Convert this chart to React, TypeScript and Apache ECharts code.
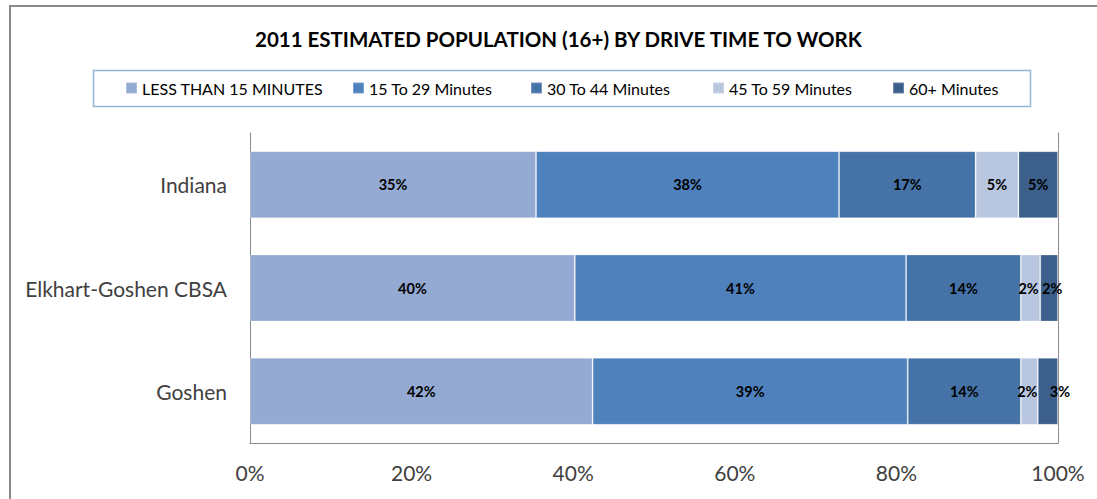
import React, { useEffect, useRef } from "react";
import * as echarts from "echarts";

const categories = ["Indiana", "Elkhart-Goshen CBSA", "Goshen"];
const seriesNames = [
  "LESS THAN 15 MINUTES",
  "15 To 29 Minutes",
  "30 To 44 Minutes",
  "45 To 59 Minutes",
  "60+ Minutes",
];
const lessThan15 = [35.4, 40.2, 42.4];
const min15to29 = [37.5, 41.0, 39.0];
const min30to44 = [16.9, 14.2, 14.0];
const min45to59 = [5.3, 2.4, 2.1];
const min60plus = [4.9, 2.2, 2.5];
const seriesValues = [lessThan15, min15to29, min30to44, min45to59, min60plus];
const seriesColors = ["#95AAD2", "#4F81BD", "#4572A7", "#B9C6E0", "#3C5F8C"];
const xTicks = [0, 20, 40, 60, 80, 100];
const legendLefts = [125, 352, 530, 712, 892];

const FONT = "Lato, 'Open Sans', sans-serif";

// label nudges for the narrow last segments (styling only)
const labelOffset = (si: number, ci: number): [number, number] => {
  if (si === 3 && ci === 1) return [-2, 0];
  if (si === 4 && ci === 1) return [3, 0];
  if (si === 3 && ci === 2) return [-2, 0];
  if (si === 4 && ci === 2) return [12, 0];
  return [0, 0];
};

export default function App() {
  const ref = useRef<HTMLDivElement>(null);
  useEffect(() => {
    document.body.style.margin = "0";
    const chart = echarts.init(ref.current!, undefined, { renderer: "svg" });
    const option: any = {
      animation: false,
      backgroundColor: "#ffffff",
      textStyle: { fontFamily: FONT },
      title: {
        text: "2011 ESTIMATED POPULATION (16+) BY DRIVE TIME TO WORK",
        left: 255,
        top: 28,
        padding: 0,
        textStyle: { fontFamily: FONT, fontSize: 20.5, fontWeight: "bold", color: "#000000" },
      },
      legend: seriesNames.map((n, i) => ({
        data: [n],
        left: legendLefts[i],
        top: 80,
        padding: 0,
        itemWidth: 11,
        itemHeight: 11,
        icon: "rect",
        selectedMode: false,
        textStyle: { fontFamily: FONT, fontSize: 16, color: "#000000" },
      })),
      graphic: [
        {
          type: "rect",
          shape: { x: 10, y: 6, width: 1300, height: 700 },
          style: { fill: "none", stroke: "#8a8a8a", lineWidth: 2 },
          silent: true,
        },
        {
          type: "rect",
          shape: { x: 93.5, y: 70.5, width: 937, height: 36 },
          style: { fill: "none", stroke: "#95B3D7", lineWidth: 1.5 },
          silent: true,
        },
      ],
      grid: { left: 250, right: 39, top: 133, bottom: 56 },
      xAxis: {
        type: "value",
        min: 0,
        max: 100,
        interval: 20,
        axisLine: { show: true, lineStyle: { color: "#8c8c8c", width: 1 } },
        axisTick: { show: false },
        splitLine: { show: false },
        axisLabel: {
          margin: 19,
          fontFamily: FONT,
          fontSize: 21,
          color: "#404040",
          formatter: (v: number) => (xTicks.includes(v) ? v + "%" : ""),
        },
      },
      yAxis: [
        {
          type: "category",
          data: categories,
          inverse: true,
          axisLine: { show: true, lineStyle: { color: "#8c8c8c", width: 1 } },
          axisTick: { show: false },
          axisLabel: { margin: 23, fontFamily: FONT, fontSize: 21, color: "#404040" },
        },
        {
          type: "category",
          data: categories,
          inverse: true,
          position: "right",
          axisLine: { show: true, lineStyle: { color: "#8c8c8c", width: 1 } },
          axisTick: { show: false },
          axisLabel: { show: false },
        },
      ],
      series: seriesNames.map((n, i) => ({
        name: n,
        type: "bar",
        stack: "total",
        yAxisIndex: 0,
        barWidth: 67,
        data: seriesValues[i].map((v, j) => ({
          value: v,
          label: { offset: labelOffset(i, j) },
        })),
        itemStyle: {
          color: seriesColors[i],
          borderColor: "rgba(255,255,255,0.25)",
          borderWidth: 1,
        },
        label: {
          show: true,
          position: "inside",
          fontFamily: FONT,
          fontSize: 14.5,
          fontWeight: "bold",
          color: "#000000",
          formatter: (p: any) => Math.round(p.value) + "%",
        },
      })),
    };
    chart.setOption(option);
    return () => chart.dispose();
  }, []);
  return <div ref={ref} style={{ width: 1097, height: 499 }} />;
}
